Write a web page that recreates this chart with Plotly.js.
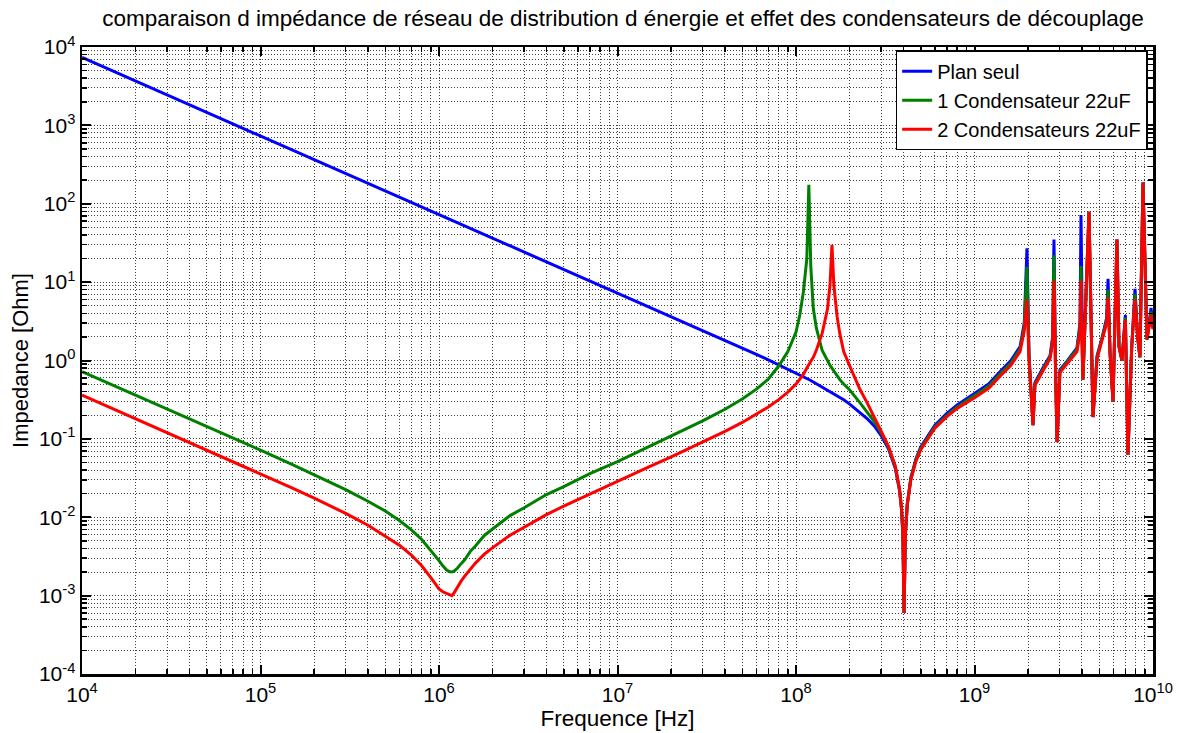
<!DOCTYPE html>
<html>
<head>
<meta charset="utf-8">
<script src="https://cdn.plot.ly/plotly-3.0.1.min.js"></script>
<style>html,body{margin:0;padding:0;background:#fff;}#chart{width:1180px;height:733px;}</style>
</head>
<body>
<div id="chart"></div>
<script>
// Frequency points (Hz)
const freq = [
  1e4, 2e4, 3e4, 5e4, 1e5, 1.5e5, 2e5, 3e5, 4e5, 5e5,
  6e5, 7e5, 8e5, 9e5, 9.5e5, 1e6, 1.05e6, 1.1e6, 1.14e6, 1.18e6,
  1.22e6, 1.27e6, 1.33e6, 1.4e6, 1.5e6, 1.6e6, 1.8e6, 2e6, 2.5e6, 3e6,
  4e6, 5e6, 7e6, 1e7, 1.5e7, 2e7, 3e7, 4e7, 5e7, 6e7,
  7e7, 8e7, 9e7, 1e8,
  1.05e8, 1.1e8, 1.15e8, 1.18e8, 1.21e8, 1.25e8,
  1.3e8, 1.4e8, 1.5e8, 1.55e8, 1.59e8, 1.63e8, 1.7e8, 1.76e8, 1.85e8, 2e8,
  2.28e8, 2.5e8, 2.75e8, 3e8, 3.3e8, 3.6e8, 3.8e8, 3.9e8, 3.97e8, 4.03e8,
  4.1e8, 4.2e8, 4.4e8, 4.7e8, 5e8, 6e8, 7e8, 8e8, 1e9, 1.2e9,
  1.39e9, 1.6e9, 1.8e9, 1.9e9, 1.968e9, 2.02e9, 2.127e9, 2.18e9, 2.42e9, 2.65e9,
  2.74e9, 2.788e9, 2.84e9, 2.9e9, 3.01e9, 3.3e9, 3.75e9, 3.9e9, 3.95e9, 4.0e9,
  4.05e9, 4.38e9, 4.61e9, 4.86e9, 5.2e9, 5.5e9, 5.6e9, 5.75e9, 5.97e9, 6.28e9,
  6.45e9, 6.7e9, 7.0e9, 7.24e9, 7.6e9, 7.93e9, 8.2e9, 8.45e9, 8.79e9, 9.25e9,
  9.75e9, 1e10
];

// Impedance (Ohm) - plane alone
const zPlan = [
  7350, 3675, 2450, 1470, 735, 490, 367.5, 245, 183.8, 147,
  122.5, 105, 91.9, 81.7, 77.4, 73.5, 70.0, 66.8, 64.5, 62.3,
  60.2, 57.9, 55.3, 52.5, 49.0, 45.9, 40.8, 36.8, 29.4, 24.5,
  18.4, 14.7, 10.5, 7.35, 4.9, 3.67, 2.44, 1.82, 1.45, 1.20,
  1.02, 0.885, 0.778, 0.692,
  0.654, 0.620, 0.589, 0.572, 0.556, 0.533,
  0.51, 0.463, 0.423, 0.405, 0.392, 0.379, 0.357, 0.339, 0.315, 0.278,
  0.215, 0.182, 0.145, 0.110, 0.074, 0.042, 0.022, 0.0126, 0.006, 0.0006,
  0.006, 0.0146, 0.032, 0.056, 0.079, 0.149, 0.211, 0.27, 0.38, 0.50,
  0.72, 1.0, 1.5, 3.0, 27, 1.2, 0.15, 0.52, 0.81, 1.15,
  2.0, 35, 1.0, 0.091, 0.76, 0.98, 1.45, 3.0, 72, 2.0,
  0.57, 79, 0.19, 1.15, 2.0, 3.5, 11, 1.2, 0.30, 35,
  1.5, 1.0, 3.8, 0.063, 1.5, 8.2, 2.0, 1.1, 186, 1.85,
  4.7, 2.75
];

// Impedance (Ohm) - 1 capacitor 22uF
const z1Cap = [
  0.72, 0.362, 0.241, 0.144, 0.0718, 0.0474, 0.0351, 0.0225, 0.0160, 0.0120,
  0.0091, 0.0069, 0.0052, 0.0038, 0.0033, 0.0028, 0.0024, 0.00214, 0.00203, 0.0020,
  0.00207, 0.00225, 0.00256, 0.0029, 0.0037, 0.0043, 0.0059, 0.0071, 0.0105, 0.0132,
  0.0195, 0.0246, 0.036, 0.0513, 0.080, 0.108, 0.170, 0.239, 0.323, 0.431,
  0.58, 0.85, 1.3, 2.3,
  3.8, 7.5, 20, 175, 16, 4.6,
  2.6, 1.35, 0.98, 0.87, 0.80, 0.73, 0.64, 0.57, 0.50, 0.42,
  0.29, 0.22, 0.165, 0.120, 0.078, 0.044, 0.023, 0.013, 0.006, 0.0006,
  0.006, 0.0145, 0.031, 0.054, 0.076, 0.142, 0.200, 0.256, 0.355, 0.47,
  0.67, 0.93, 1.4, 2.7, 15.7, 1.1, 0.15, 0.50, 0.77, 1.1,
  1.85, 22, 0.95, 0.091, 0.73, 0.94, 1.38, 2.6, 16, 1.8,
  0.57, 79, 0.19, 1.1, 1.9, 3.2, 8, 1.2, 0.30, 35,
  1.5, 1.0, 3.5, 0.063, 1.5, 7, 2.0, 1.1, 186, 1.85,
  4.2, 2.6
];

// Impedance (Ohm) - 2 capacitors 22uF
const z2Cap = [
  0.362, 0.181, 0.121, 0.0722, 0.0359, 0.0237, 0.0175, 0.0112, 0.0079, 0.0058,
  0.0044, 0.0033, 0.0024, 0.0017, 0.00144, 0.00122, 0.00112, 0.00106, 0.00102, 0.00100,
  0.00110, 0.00131, 0.00153, 0.0018, 0.0022, 0.0026, 0.0034, 0.0041, 0.0059, 0.0075,
  0.0108, 0.0139, 0.0199, 0.0288, 0.0439, 0.059, 0.091, 0.1246, 0.162, 0.205,
  0.255, 0.317, 0.396, 0.50,
  0.575, 0.664, 0.80, 0.90, 0.98, 1.1,
  1.35, 2.2, 4.5, 9, 30, 9, 3.6, 2.2, 1.3, 0.85,
  0.43, 0.29, 0.19, 0.125, 0.080, 0.045, 0.023, 0.013, 0.006, 0.0006,
  0.006, 0.0144, 0.030, 0.052, 0.073, 0.137, 0.192, 0.245, 0.335, 0.44,
  0.63, 0.87, 1.3, 2.4, 6.0, 1.0, 0.15, 0.48, 0.74, 1.05,
  1.7, 10.5, 0.9, 0.091, 0.70, 0.90, 1.3, 2.3, 10.5, 1.6,
  0.57, 79, 0.19, 1.05, 1.8, 3.0, 6.3, 1.2, 0.30, 35,
  1.5, 1.0, 3.3, 0.063, 1.5, 6, 2.0, 1.1, 186, 1.85,
  3.8, 2.5
];

const seriesNames = ['Plan seul', '1 Condensateur 22uF', '2 Condensateurs 22uF'];
const seriesColors = ['#0000ff', '#008000', '#ff0000'];

const xTickVals = [1e4, 1e5, 1e6, 1e7, 1e8, 1e9, 1e10];
const xTickText = ['10<sup>4</sup>', '10<sup>5</sup>', '10<sup>6</sup>', '10<sup>7</sup>', '10<sup>8</sup>', '10<sup>9</sup>', '10<sup>10</sup>'];
const yTickVals = [1e-4, 1e-3, 1e-2, 1e-1, 1, 10, 100, 1e3, 1e4];
const yTickText = ['10<sup>-4</sup>', '10<sup>-3</sup>', '10<sup>-2</sup>', '10<sup>-1</sup>', '10<sup>0</sup>', '10<sup>1</sup>', '10<sup>2</sup>', '10<sup>3</sup>', '10<sup>4</sup>'];

function minorTicks(lo, hi) {
  const out = [];
  for (let e = lo; e < hi; e++) {
    for (let m = 2; m <= 9; m++) out.push(m * Math.pow(10, e));
  }
  return out;
}

const FONT = 'Liberation Sans, Arial, Helvetica, sans-serif';

const ys = [zPlan, z1Cap, z2Cap];
const traces = ys.map((y, i) => ({
  type: 'scatter', mode: 'lines', x: freq, y: y, name: seriesNames[i],
  line: {color: seriesColors[i], width: 3}
}));

const gridCol = 'rgba(0,0,0,0.75)';
const gridDash = '1px,2px';
const axisCommon = {
  type: 'log', showline: true, linecolor: '#000', linewidth: 2.5, mirror: 'allticks',
  ticks: 'inside', ticklen: 9, tickwidth: 2, tickcolor: '#000',
  showgrid: true, gridcolor: gridCol, griddash: gridDash, gridwidth: 1,
  zeroline: false, tickfont: {family: FONT, size: 21, color: '#000'},
  tickmode: 'array'
};

const layout = {
  width: 1180, height: 733,
  margin: {l: 82, r: 27, t: 47, b: 59},
  paper_bgcolor: '#fff', plot_bgcolor: '#fff',
  font: {family: FONT, color: '#000'},
  title: {text: 'comparaison d impédance de réseau de distribution d énergie et effet des condensateurs de découplage',
          x: 0.528, xanchor: 'center', y: 0.975, yanchor: 'middle', font: {family: FONT, size: 22.5, color: '#000'}},
  xaxis: Object.assign({}, axisCommon, {
    range: [4, 10], tickvals: xTickVals, ticktext: xTickText,
    title: {text: 'Frequence [Hz]', font: {family: FONT, size: 22.5, color: '#000'}, standoff: 5},
    minor: {tickmode: 'array', tickvals: minorTicks(4, 10), ticks: 'inside', ticklen: 5, tickwidth: 1.5, tickcolor: '#000',
            showgrid: true, gridcolor: gridCol, griddash: gridDash, gridwidth: 1}
  }),
  yaxis: Object.assign({}, axisCommon, {
    range: [-4, 4], tickvals: yTickVals, ticktext: yTickText,
    title: {text: 'Impedance [Ohm]', font: {family: FONT, size: 22, color: '#000'}, standoff: 4},
    minor: {tickmode: 'array', tickvals: minorTicks(-4, 4), ticks: 'inside', ticklen: 5, tickwidth: 1.5, tickcolor: '#000',
            showgrid: true, gridcolor: gridCol, griddash: gridDash, gridwidth: 1}
  }),
  legend: {x: 0.995, y: 0.995, xanchor: 'right', yanchor: 'top', bgcolor: '#fff', bordercolor: '#000', borderwidth: 1.5,
           font: {family: FONT, size: 20, color: '#000'}, tracegroupgap: 0},
  showlegend: true
};

Plotly.newPlot('chart', traces, layout, {displayModeBar: false, staticPlot: true});
</script>
</body>
</html>
